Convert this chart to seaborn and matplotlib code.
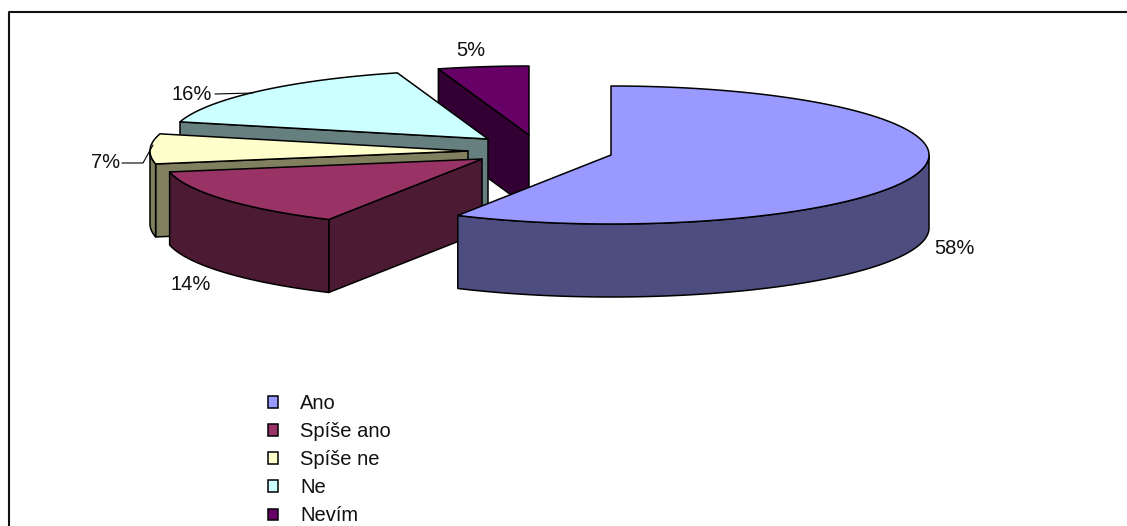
import numpy as np
import matplotlib
matplotlib.use("Agg")
import matplotlib.pyplot as plt
import seaborn as sns
from matplotlib.patches import Polygon, Patch

categories = ["Ano", "Spíše ano", "Spíše ne", "Ne", "Nevím"]
values = [58.0, 14.0, 7.0, 16.4, 4.6]
top_colors = ["#9999FF", "#993366", "#FFFFCC", "#CCFFFF", "#660066"]
side_colors = ["#4D4D80", "#4D1A33", "#80805F", "#668080", "#330033"]
apex_x = [611, 482, 468, 488, 529]
apex_y = [155, 159, 151, 139, 135]
label_x = [954, 191, 106, 192, 471]
label_y = [249, 284, 163, 94, 51]

W, H = 1127, 526
RX, RY, DEPTH = 318, 69, 73
FONT = 14.5

sns.set_theme(style="white")
plt.rcParams["font.family"] = ["Liberation Sans", "DejaVu Sans"]
tops = sns.color_palette(top_colors)
sides = sns.color_palette(side_colors)

fig = plt.figure(figsize=(W / 100, H / 100), dpi=100)
ax = fig.add_axes([0, 0, 1, 1])
ax.set_xlim(0, W)
ax.set_ylim(H, 0)
ax.axis("off")

# chart frame: only the left and top edges fall inside the picture
ax.plot([8.5, 8.5, W], [H, 12, 12], color="#111111", lw=1.5, zorder=1)


def arc(cx, cy, a0, a1, dy=0.0):
    t = np.radians(np.linspace(a0, a1, max(int(abs(a1 - a0)) * 2, 2)))
    return np.column_stack([cx + RX * np.sin(t), cy - RY * np.cos(t) + dy])


edges = np.cumsum([0.0] + values) * 3.6
for i in reversed(range(len(values))):
    a0, a1 = edges[i], edges[i + 1]
    cx, cy = apex_x[i], apex_y[i]
    z = 22 - i * 3
    kw = dict(edgecolor="black", lw=1.1, joinstyle="round")
    if a0 > 90:
        p = arc(cx, cy, a0, a0)[0]
        ax.add_patch(Polygon([(cx, cy), p, p + [0, DEPTH], (cx, cy + DEPTH)],
                             facecolor=sides[i], zorder=z, **kw))
    lo, hi = max(a0, 90), min(a1, 270)
    if hi > lo:
        upper = arc(cx, cy, lo, hi)
        lower = arc(cx, cy, hi, lo, DEPTH)
        ax.add_patch(Polygon(np.vstack([upper, lower]), facecolor=sides[i], zorder=z, **kw))
    ax.add_patch(Polygon(np.vstack([[(cx, cy)], arc(cx, cy, a0, a1)]),
                         facecolor=tops[i], zorder=z + 1, **kw))

for i, v in enumerate(values):
    ax.text(label_x[i], label_y[i], f"{v:.0f}%", ha="center", va="center",
            fontsize=FONT, color="#111111", zorder=40)

# leader lines
ax.plot([215, 253], [94, 93], color="black", lw=0.8, zorder=30)
ax.plot([122, 143, 153], [163, 163, 145], color="black", lw=0.8, zorder=30)

handles = [Patch(facecolor=tops[i], edgecolor="black", lw=1.1, label=categories[i])
           for i in range(len(categories))]
leg = ax.legend(handles=handles, loc="upper left", bbox_to_anchor=(268 / W, 1 - 394 / H),
                bbox_transform=ax.transAxes, frameon=False, fontsize=FONT,
                labelcolor="#111111",
                handlelength=0.5, handleheight=0.5, handletextpad=1.09,
                labelspacing=0.452, borderpad=0, borderaxespad=0)
leg.set_zorder(40)

fig.savefig("out.png", dpi=100, facecolor="white")
